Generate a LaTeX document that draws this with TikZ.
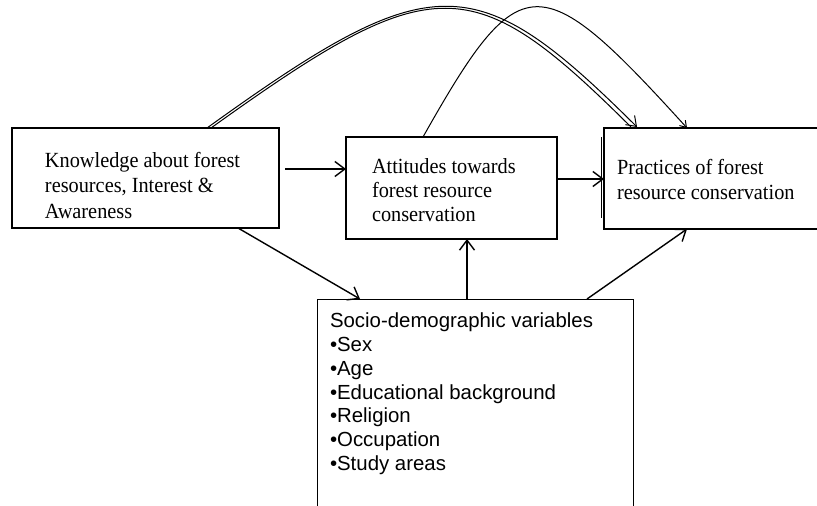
\documentclass[tikz,border=0pt]{standalone}
\usepackage{fontspec}
\setmainfont[FakeStretch=0.94]{Liberation Serif}
\newfontfamily\sansfam{Liberation Sans}
\usetikzlibrary{arrows.meta,calc}
\begin{document}
\begin{tikzpicture}[x=1pt,y=-1pt,
  box/.style={draw,line width=1.1pt,fill=white,inner ysep=0pt,outer sep=0pt,anchor=north west},
  arr/.style={line width=1.4pt,-{Straight Barb[length=10pt,width=15pt,line width=1.4pt]}},
  arc/.style={line width=1pt},
  archead/.style={-{Straight Barb[length=9pt,width=13pt,line width=1pt]}},
]
\useasboundingbox (0,0) rectangle (817,506);
\fill[white] (0,0) rectangle (817,506);
\clip (0,0) rectangle (817,506);

% boxes
\node[box,inner xsep=33pt,font=\fontsize{21.6}{25.5}\selectfont] (K) at (12,128)
  {\parbox[c][100pt][t]{201pt}{\raggedright\vspace*{24pt}Knowledge about forest\\resources, Interest \&\\Awareness}};
\node[box,inner xsep=26pt,font=\fontsize{21.6}{24}\selectfont] (A) at (346,137)
  {\parbox[c][102pt][t]{159pt}{\raggedright\vspace*{22pt}Attitudes towards\\forest resource\\conservation}};
\node[box,inner xsep=13pt,font=\fontsize{21.6}{25}\selectfont] (P) at (604,128)
  {\parbox[c][101pt][t]{240pt}{\raggedright\vspace*{31pt}Practices of forest\\resource conservation}};
\node[box,line width=1pt,inner xsep=13pt,font=\sansfam\fontsize{20.4}{23.8}\selectfont] (S) at (317,299)
  {\parbox[c][230pt][t]{290pt}{\raggedright\vspace*{14pt}Socio-demographic variables\\
   •Sex\\•Age\\•Educational background\\•Religion\\•Occupation\\•Study areas}};

% doubled left edge of the practices box
\draw[line width=1pt] ($(P.north west)+(-2.5,9)$) -- ($(P.south west)+(-2.5,-11)$);

% straight connectors
\coordinate (ka) at ($(K.north east)+(6,41)$);
\draw[arr] (ka) -- (ka -| A.west);
\coordinate (ap) at ($(A.north east)+(0,42)$);
\draw[arr] (ap) -- (ap -| P.west);
\coordinate (ks) at ($(K.south west)+(226,0)$);
\coordinate (sk) at ($(S.north west)+(43,0)$);
\draw[arr] (ks) -- (sk);
\coordinate (sa) at ($(S.north west)+(150,0)$);
\draw[arr] (sa) -- (sa |- A.south);
\coordinate (sp) at ($(S.north west)+(270,0)$);
\coordinate (ps) at ($(P.south west)+(83,0)$);
\draw[arr] (sp) -- (ps);

% curved connectors over the top
\coordinate (ko) at ($(K.north west)+(195,0)$);
\coordinate (ki) at ($(K.north west)+(199,0)$);
\coordinate (po) at ($(P.north west)+(33,-1)$);
\coordinate (pi) at ($(P.north west)+(27,-1)$);
\draw[arc,archead] (ko) .. controls +(225,-162) and +(-162,-161) .. (po);
\draw[arc] (ki) .. controls +(223,-160) and +(-159,-158) .. (pi);
\coordinate (at) at ($(A.north west)+(77,0)$);
\coordinate (pt) at ($(P.north west)+(83,0)$);
\draw[arc,-{Straight Barb[length=6pt,width=8pt,line width=1pt]}] (at) .. controls +(97,-172) and +(-148,-163) .. (pt);
\end{tikzpicture}
\end{document}
